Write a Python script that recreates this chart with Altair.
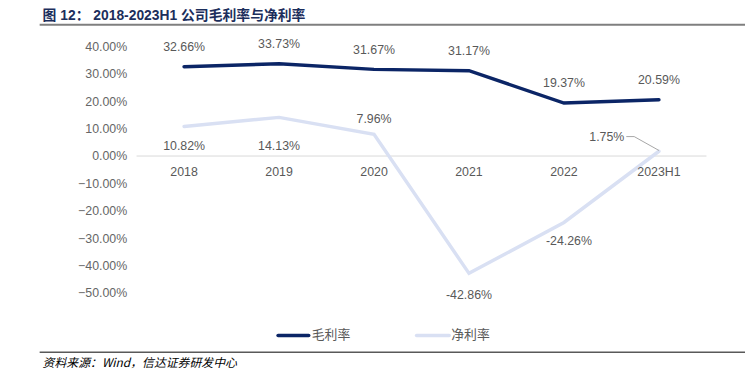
import altair as alt
import pandas as pd

categories = ["2018", "2019", "2020", "2021", "2022", "2023H1"]
gross = [32.66, 33.73, 31.67, 31.17, 19.37, 20.59]
net = [10.82, 14.13, 7.96, -42.86, -24.26, 1.75]
series_names = ["毛利率", "净利率"]
y_ticks = [-50, -40, -30, -20, -10, 0, 10, 20, 30, 40]

title_text = "图 12： 2018-2023H1 公司毛利率与净利率"
source_text = "资料来源：Wind，信达证券研发中心"

NAVY = "#0b2566"
LIGHT = "#d9e0f3"
LABEL = "#595959"
NUMFONT = "Liberation Sans"
CJK = "Noto Sans CJK SC"

rows = []
for c, g, n in zip(categories, gross, net):
    rows.append({"cat": c, "series": series_names[0], "value": g})
    rows.append({"cat": c, "series": series_names[1], "value": n})
df = pd.DataFrame(rows)
df["label"] = df["value"].map(lambda v: f"{v:.2f}%")

xscale = alt.Scale(domain=categories, paddingInner=0, paddingOuter=0)
xenc = alt.X("cat:N", sort=categories, scale=xscale, axis=None)
yscale = alt.Scale(domain=[-50, 40], nice=False, zero=False)
yaxis = alt.Axis(values=y_ticks, grid=False, domain=False, ticks=False,
                 labelExpr="format(datum.value, '.2f') + '%'",
                 labelPadding=10, labelFont=NUMFONT, labelFontSize=12.5,
                 labelColor="#666666", title=None)
yenc = alt.Y("value:Q", scale=yscale, axis=yaxis)

base = alt.Chart(df)

zero = alt.Chart(pd.DataFrame({"value": [0]})).mark_rule(color="#d9d9d9", strokeWidth=1).encode(
    y=yenc
)

lines = base.mark_line(strokeWidth=3.5, strokeCap="round").encode(
    x=xenc, y=yenc,
    color=alt.Color("series:N", scale=alt.Scale(domain=series_names, range=[NAVY, LIGHT]),
                    legend=None),
    detail="series:N",
)

cat_df = pd.DataFrame({"cat": categories, "value": [0] * len(categories)})
cat_labels = alt.Chart(cat_df).mark_text(dy=16, font=NUMFONT, fontSize=12.5, color=LABEL).encode(
    x=xenc, y=yenc, text="cat:N",
)

gross_labels = base.transform_filter(alt.datum.series == series_names[0]).mark_text(
    dy=-20, font=NUMFONT, fontSize=12.5, color=LABEL
).encode(x=xenc, y=yenc, text="label:N")

net_offsets = {
    "2018": (0, 20, "center"),
    "2019": (0, 29, "center"),
    "2020": (0, -15, "center"),
    "2021": (0, 22, "center"),
    "2022": (5, 19, "center"),
    "2023H1": (-35, -14, "right"),
}
net_layers = []
for c in categories:
    dx, dy, al = net_offsets[c]
    net_layers.append(
        base.transform_filter((alt.datum.series == series_names[1]) & (alt.datum.cat == c))
        .mark_text(dx=dx, dy=dy, align=al, font=NUMFONT, fontSize=12.5, color=LABEL)
        .encode(x=xenc, y=yenc, text="label:N")
    )

one = pd.DataFrame({"a": [0]})

# leader line for the last net label
lead1 = alt.Chart(one).mark_rule(color="#a6a6a6", strokeWidth=1).encode(
    x=alt.value(495), x2=alt.value(503), y=alt.value(91), y2=alt.value(91))
lead2 = alt.Chart(one).mark_rule(color="#a6a6a6", strokeWidth=1).encode(
    x=alt.value(503), x2=alt.value(528), y=alt.value(91), y2=alt.value(105))

title = alt.Chart(one).mark_text(text=title_text, align="left", baseline="alphabetic",
                                 font="Liberation Sans, Noto Sans CJK SC", fontSize=14,
                                 fontWeight="bold",
                                 color="#1c2e5c").encode(x=alt.value(-95), y=alt.value(-27))
title_rule = alt.Chart(one).mark_rule(color="#7f7f7f", strokeWidth=2).encode(
    x=alt.value(-98), x2=alt.value(615), y=alt.value(-22))
bottom_rule = alt.Chart(one).mark_rule(color="#595959", strokeWidth=1.5).encode(
    x=alt.value(-98), x2=alt.value(615), y=alt.value(309))
source = alt.Chart(one).mark_text(text=source_text, align="left", baseline="middle",
                                  font=CJK, fontSize=12, fontStyle="italic",
                                  color="#000000").encode(x=alt.value(-95), y=alt.value(320))

leg1 = alt.Chart(one).mark_rule(color=NAVY, strokeWidth=3.5, strokeCap="round").encode(
    x=alt.value(143), x2=alt.value(174), y=alt.value(292))
leg1t = alt.Chart(one).mark_text(text=series_names[0], align="left", baseline="middle",
                                 font=CJK, fontSize=13, color=LABEL).encode(
    x=alt.value(177), y=alt.value(292))
leg2 = alt.Chart(one).mark_rule(color=LIGHT, strokeWidth=3.5, strokeCap="round").encode(
    x=alt.value(283), x2=alt.value(316), y=alt.value(292))
leg2t = alt.Chart(one).mark_text(text=series_names[1], align="left", baseline="middle",
                                 font=CJK, fontSize=13, color=LABEL).encode(
    x=alt.value(318), y=alt.value(292))

chart = alt.layer(
    zero, lines, cat_labels, gross_labels, *net_layers, lead1, lead2,
    title, title_rule, bottom_rule, source, leg1, leg1t, leg2, leg2t
).properties(
    width=576, height=249,
    padding={"left": 130, "top": 37, "right": 39, "bottom": 80},
    autosize=alt.AutoSizeParams(type="none"),
).configure_view(stroke=None)

chart.save("out.html", embed_options={"renderer": "svg", "actions": False})
